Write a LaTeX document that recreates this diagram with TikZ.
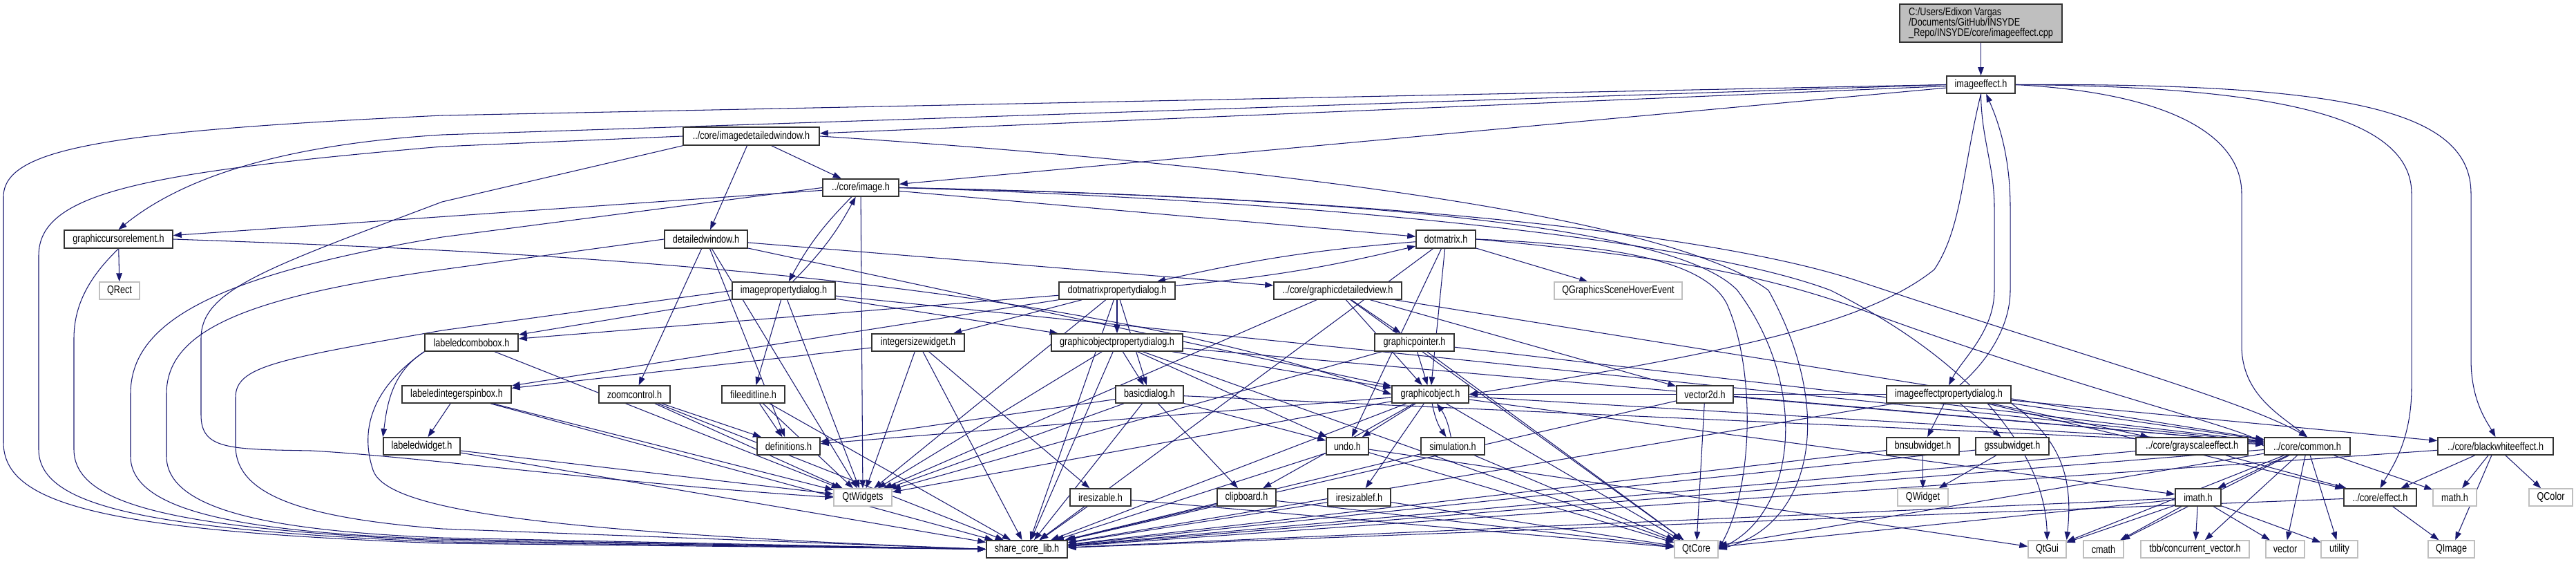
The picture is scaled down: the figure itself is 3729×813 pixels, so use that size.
\documentclass[tikz,border=0pt]{standalone}
\usepackage{fontspec}
\setmainfont{Liberation Sans}[FakeStretch=0.8]
\usetikzlibrary{arrows.meta}
\definecolor{edgec}{RGB}{25,25,112}
\definecolor{extc}{RGB}{191,191,191}
\pgfdeclarelayer{bg}
\pgfsetlayers{bg,main}
\tikzset{
 e/.style={draw=edgec,line width=0.6pt,-{Triangle[length=0.24cm,width=0.17cm]}},
 pn/.style={draw=black!80,line width=0.9pt,fill=white,inner sep=0pt,font=\fontsize{9}{8.5}\selectfont},
 xn/.style={draw=extc,line width=0.8pt,fill=white,inner sep=0pt,font=\fontsize{9}{8.5}\selectfont},
 rn/.style={pn,fill=extc,align=left},
}
\newcommand\nd[7]{\node[#7,minimum width={(#4-#2)*0.02cm},minimum height={(#5-#3)*0.02cm}] (#1) at ({(#2+#4)/2},{(#3+#5)/2}) {#6};}
\begin{document}
\begin{tikzpicture}[x=0.02cm,y=-0.02cm]
\useasboundingbox (0,0) rectangle (3729,813);
\nd{root}{2750}{6}{2985}{61}{C:/Users/Edixon Vargas\\/Documents/GitHub/INSYDE\\\_Repo/INSYDE/core/imageeffect.cpp}{rn}
\nd{ie}{2818}{110}{2917}{135}{imageeffect.h}{pn}
\nd{idw}{989}{184}{1186}{210}{../core/imagedetailedwindow.h}{pn}
\nd{img}{1191}{259}{1301}{284}{../core/image.h}{pn}
\nd{gce}{93}{333}{250}{359}{graphiccursorelement.h}{pn}
\nd{dw}{962}{333}{1082}{359}{detailedwindow.h}{pn}
\nd{dm}{2050}{333}{2136}{359}{dotmatrix.h}{pn}
\nd{qrect}{144}{408}{202}{433}{QRect}{xn}
\nd{ipd}{1060}{408}{1209}{433}{imagepropertydialog.h}{pn}
\nd{dmpd}{1533}{408}{1701}{433}{dotmatrixpropertydialog.h}{pn}
\nd{gdv}{1844}{408}{2029}{433}{../core/graphicdetailedview.h}{pn}
\nd{qgs}{2250}{408}{2435}{433}{QGraphicsSceneHoverEvent}{xn}
\nd{lcb}{615}{483}{750}{508}{labeledcombobox.h}{pn}
\nd{isw}{1262}{483}{1396}{508}{integersizewidget.h}{pn}
\nd{gopd}{1522}{483}{1712}{508}{graphicobjectpropertydialog.h}{pn}
\nd{gp}{1990}{483}{2105}{508}{graphicpointer.h}{pn}
\nd{lisb}{582}{558}{740}{583}{labeledintegerspinbox.h}{pn}
\nd{zc}{867}{558}{970}{583}{zoomcontrol.h}{pn}
\nd{fel}{1045}{558}{1136}{583}{fileeditline.h}{pn}
\nd{bd}{1615}{558}{1713}{583}{basicdialog.h}{pn}
\nd{go}{2015}{558}{2126}{583}{graphicobject.h}{pn}
\nd{v2d}{2427}{558}{2509}{583}{vector2d.h}{pn}
\nd{iepd}{2731}{558}{2911}{583}{imageeffectpropertydialog.h}{pn}
\nd{lw}{555}{633}{666}{658}{labeledwidget.h}{pn}
\nd{def}{1096}{633}{1187}{658}{definitions.h}{pn}
\nd{undo}{1920}{633}{1981}{658}{undo.h}{pn}
\nd{sim}{2057}{633}{2149}{658}{simulation.h}{pn}
\nd{bns}{2731}{633}{2836}{658}{bnsubwidget.h}{pn}
\nd{gss}{2860}{633}{2966}{658}{gssubwidget.h}{pn}
\nd{gse}{3092}{633}{3254}{658}{../core/grayscaleeffect.h}{pn}
\nd{com}{3278}{633}{3402}{658}{../core/common.h}{pn}
\nd{bwe}{3529}{633}{3696}{658}{../core/blackwhiteeffect.h}{pn}
\nd{qtw}{1207}{707}{1291}{732}{QtWidgets}{xn}
\nd{ires}{1549}{707}{1637}{732}{iresizable.h}{pn}
\nd{clip}{1762}{707}{1847}{732}{clipboard.h}{pn}
\nd{iresf}{1922}{707}{2013}{732}{iresizablef.h}{pn}
\nd{qwid}{2747}{707}{2820}{732}{QWidget}{xn}
\nd{imath}{3149}{707}{3215}{732}{imath.h}{pn}
\nd{eff}{3393}{707}{3498}{732}{../core/effect.h}{pn}
\nd{mathh}{3522}{707}{3585}{732}{math.h}{xn}
\nd{qcolor}{3661}{707}{3724}{732}{QColor}{xn}
\nd{scl}{1428}{782}{1545}{807}{share\_core\_lib.h}{pn}
\nd{qtcore}{2424}{782}{2487}{807}{QtCore}{xn}
\nd{qtgui}{2936}{782}{2991}{807}{QtGui}{xn}
\nd{cmath}{3016}{782}{3074}{807}{cmath}{xn}
\nd{tbb}{3099}{782}{3256}{807}{tbb/concurrent\_vector.h}{xn}
\nd{vec}{3280}{782}{3336}{807}{vector}{xn}
\nd{util}{3360}{782}{3413}{807}{utility}{xn}
\nd{qimage}{3515}{782}{3582}{807}{QImage}{xn}
\begin{pgfonlayer}{bg}
\foreach \a/\b in {root/ie, ie/idw, ie/img, idw/img, idw/dw,
 img/gce, img/dm, img/qtw,
 gce/qrect, dw/zc, dw/def, dw/gdv, dw/qtw, dw/go,
 dm/qgs, dm/scl, dm/undo, dm/go,
 ipd/lcb, ipd/fel, ipd/gopd, ipd/qtw, ipd/com,
 dmpd/lcb, dmpd/lisb, dmpd/isw, dmpd/gopd, dmpd/bd, dmpd/qtw, dmpd/scl,
 gdv/gp, gdv/go, gdv/v2d, gdv/qtcore, gdv/com, gdv/qtw,
 lcb/qtw, isw/lisb, isw/qtw, isw/ires, isw/scl,
 gopd/bd, gopd/go, gopd/qtw, gopd/scl, gopd/com, gopd/qtcore, gopd/undo,
 gp/go, gp/qtw, gp/qtcore, gp/com,
 lisb/lw, lisb/scl, lisb/qtw, zc/def, zc/qtw, zc/scl, fel/def, fel/qtw, fel/scl,
 bd/clip, bd/qtw, bd/scl, bd/undo, bd/def, bd/com,
 go/undo, go/iresf, go/def, go/qtw, go/scl, go/qtcore, go/com, go/imath, go/clip,
 v2d/scl, v2d/qtcore, v2d/com,
 iepd/bns, iepd/gss, iepd/gse, iepd/com, iepd/bwe, iepd/eff, iepd/scl, iepd/go,
 bwe/eff, bwe/mathh, bwe/qcolor, bwe/qimage, bwe/scl,
 lw/qtw, lw/scl, undo/scl, undo/qtgui, undo/qtcore, sim/qtcore, sim/scl,
 bns/qwid, bns/scl, gss/qwid, gss/scl, gse/eff, gse/scl,
 com/imath, com/tbb, com/vec, com/util, com/mathh, com/qtcore, com/qtgui, com/scl, com/cmath,
 ires/scl, ires/qtcore, clip/scl, clip/qtcore, iresf/scl, iresf/qtcore,
 imath/tbb, imath/vec, imath/util, imath/qtcore, imath/qtgui, imath/cmath, imath/scl,
 eff/qimage, eff/scl}
 {\draw[e] (\a) -- (\b);}
% cycles
\draw[e] (img) to[bend right=8] (ipd);
\draw[e] (ipd) to[bend right=8] (img);
\draw[e] (dm) to[bend right=4] (dmpd);
\draw[e] (dmpd) to[bend right=4] (dm);
\draw[e] (go) to[bend right=12] (sim);
\draw[e] (sim) to[bend right=12] (go);
% long curved routes to the right
\draw[e] (gce.east) .. controls (700,362) and (1500,390) .. (go.west);
\draw[e] (img.east) .. controls (2000,285) and (2500,340) .. (2700,410) .. controls (3000,510) and (3250,580) .. (com.north);
\draw[e] (img.east) .. controls (1900,285) and (2420,320) .. (2515,420) .. controls (2620,560) and (2600,740) .. (qtcore.east);
\draw[e] (img.east) .. controls (1900,290) and (2450,345) .. (2650,420) .. controls (2850,520) and (2960,650) .. (qtgui.north);
\draw[e] (idw.east) .. controls (1700,230) and (2400,300) .. (2560,420) .. controls (2660,600) and (2620,760) .. (qtcore.east);
\draw[e] (dm.east) .. controls (2350,355) and (2470,380) .. (2500,440) .. controls (2540,530) and (2540,700) .. (qtcore.east);
\draw[e] (dm.east) .. controls (2400,370) and (2550,395) .. (2700,450) .. controls (3000,560) and (3250,620) .. (com.west);
\draw[e] (iepd.south east) .. controls (2990,640) and (3000,700) .. (qtgui.north east);
% imageeffect.h special routes
\draw[e] (ie.west) -- (640,195) .. controls (400,210) and (260,260) .. (gce.north);
\draw[e] (ie.west) -- (640,167) .. controls (150,190) and (5,215) .. (5,285) -- (5,640) .. controls (5,730) and (150,768) .. (640,786) -- (scl.west);
\draw[e] (ie.south) .. controls (2840,250) and (2840,330) .. (2800,390) .. controls (2700,470) and (2500,510) .. (go.east);
\draw[e] (ie.south) .. controls (2868,200) and (2887,240) .. (2887,300) -- (2887,420) .. controls (2887,480) and (2840,520) .. (iepd.north);
\draw[e] (iepd.40) .. controls (2880,520) and (2910,470) .. (2910,420) -- (2910,300) .. controls (2910,220) and (2890,170) .. (ie.-60);
\draw[e] (ie.east) .. controls (3150,135) and (3245,200) .. (3245,280) -- (3245,500) .. controls (3245,570) and (3300,600) .. (com.north);
\draw[e] (ie.east) .. controls (3300,125) and (3491,170) .. (3491,280) -- (3491,560) .. controls (3491,640) and (3460,680) .. (eff.north);
\draw[e] (ie.east) .. controls (3400,120) and (3577,160) .. (3577,280) -- (3577,520) .. controls (3577,580) and (3600,610) .. (bwe.north);
% loops on the left
\draw[e] (idw.west) -- (640,212) .. controls (200,250) and (56,280) .. (56,370) -- (56,650) .. controls (56,730) and (200,766) .. (640,784) -- (scl.west);
\draw[e] (gce.south) .. controls (130,400) and (107,440) .. (107,490) -- (107,650) .. controls (107,730) and (250,765) .. (640,782) -- (scl.west);
\draw[e] (img.west) -- (640,343) .. controls (300,400) and (189,470) .. (189,570) -- (189,660) .. controls (189,740) and (350,770) .. (640,780) -- (scl.west);
\draw[e] (dw.west) -- (640,390) .. controls (350,430) and (241,480) .. (241,570) -- (241,660) .. controls (241,740) and (400,768) .. (640,778) -- (scl.west);
\draw[e] (idw.south west) -- (640,292) .. controls (380,390) and (291,420) .. (291,490) -- (291,600) .. controls (291,650) and (330,650) .. (450,652) .. controls (600,660) and (900,700) .. (qtw.west);
\draw[e] (ipd.west) -- (640,478) .. controls (400,520) and (341,530) .. (341,575) -- (341,645) .. controls (341,720) and (450,750) .. (640,765) -- (scl.west);
\draw[e] (lcb.south west) .. controls (540,560) and (520,620) .. (540,680) .. controls (560,740) and (800,770) .. (scl.west);
\draw[e] (lcb.south west) .. controls (565,540) and (560,590) .. (lw.north west);
\end{pgfonlayer}
\end{tikzpicture}
\end{document}
